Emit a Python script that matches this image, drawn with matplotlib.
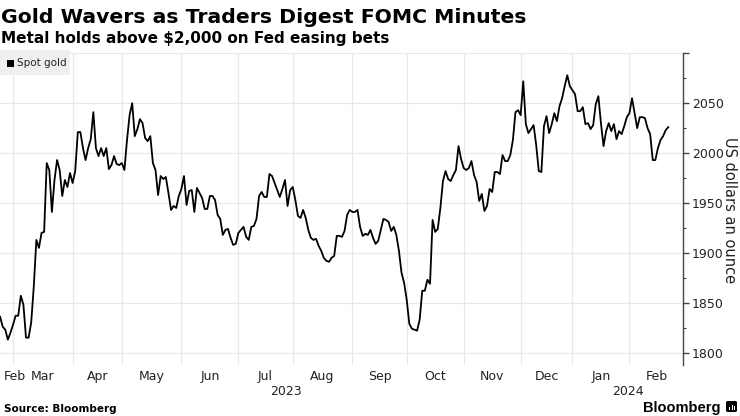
import numpy as np
import matplotlib
matplotlib.use("Agg")
import matplotlib.pyplot as plt
from matplotlib import transforms
from matplotlib.patches import Rectangle, FancyBboxPatch

# ---- data: spot gold closes (USD/oz), trading days Feb 21 2023 - Feb 21 2024 ----
feb23 = [1836, 1826, 1823, 1813, 1820, 1828]
mar23 = [1837, 1837, 1857, 1848, 1815, 1815, 1830, 1866, 1913, 1905, 1920, 1921,
         1990, 1983, 1941, 1973, 1993, 1983, 1957, 1973, 1966, 1980, 1970]
apr23 = [1982, 2021, 2021, 2005, 1993, 2005, 2014, 2041, 2005, 1997, 2005, 1997,
         2005, 1984, 1988, 1997, 1989, 1988, 1990]
may23 = [1983, 2013, 2038, 2050, 2017, 2024, 2034, 2030, 2015, 2012, 2017, 1990,
         1983, 1958, 1977, 1974, 1976, 1960, 1943, 1947, 1945, 1957, 1964]
jun23 = [1977, 1948, 1962, 1963, 1941, 1965, 1960, 1955, 1944, 1944, 1957, 1957,
         1953, 1938, 1934, 1918, 1923, 1924, 1915, 1908, 1909, 1920]
jul23 = [1923, 1926, 1916, 1913, 1926, 1927, 1934, 1957, 1961, 1956, 1956, 1979,
         1977, 1970, 1963, 1956, 1964, 1973, 1947, 1963, 1966]
aug23 = [1953, 1937, 1935, 1943, 1935, 1923, 1915, 1913, 1914, 1907, 1902, 1895,
         1892, 1891, 1895, 1897, 1917, 1917, 1916, 1922, 1938, 1943, 1941]
sep23 = [1941, 1943, 1926, 1917, 1919, 1918, 1923, 1915, 1909, 1912, 1923, 1934,
         1933, 1931, 1922, 1926, 1918, 1902, 1880, 1870, 1853]
oct23 = [1829, 1824, 1823, 1822, 1833, 1862, 1862, 1873, 1869, 1933, 1921, 1924,
         1945, 1972, 1982, 1974, 1972, 1978, 1983, 2007, 1994, 1985]
nov23 = [1983, 1985, 1992, 1978, 1971, 1952, 1959, 1942, 1947, 1964, 1961, 1981,
         1981, 1979, 1998, 1992, 1992, 1998, 2013, 2041, 2043, 2038]
dec23 = [2072, 2029, 2020, 2024, 2028, 2008, 1982, 1981, 2027, 2037, 2020, 2029,
         2040, 2032, 2047, 2055, 2067, 2078, 2067, 2063]
jan24 = [2059, 2042, 2042, 2046, 2029, 2030, 2024, 2028, 2049, 2057, 2030, 2007,
         2022, 2030, 2022, 2029, 2014, 2022, 2019, 2027, 2036, 2040]
feb24 = [2055, 2040, 2025, 2036, 2036, 2035, 2025, 2019, 1993, 1993, 2005, 2013,
         2017, 2023, 2026]

monthly = [feb23, mar23, apr23, may23, jun23, jul23, aug23, sep23, oct23,
           nov23, dec23, jan24, feb24]
month_labels = ["Feb", "Mar", "Apr", "May", "Jun", "Jul", "Aug", "Sep", "Oct",
                "Nov", "Dec", "Jan", "Feb"]
year_labels = ["2023", "2024"]
first_month_of_2024 = 11
y_major = [1800, 1850, 1900, 1950, 2000, 2050, 2100]
y_labels = ["1800", "1850", "1900", "1950", "2000", "2050", ""]

title = "Gold Wavers as Traders Digest FOMC Minutes"
subtitle = "Metal holds above $2,000 on Fed easing bets"
series_name = "Spot gold"
y_title = "US dollars an ounce"

# ---- derived ----
values = np.concatenate([np.array(m, dtype=float) for m in monthly])
x = np.arange(len(values))
starts = np.cumsum([0] + [len(m) for m in monthly])[:-1]
boundaries = [s - 1 for s in starts[1:]]

W, H = 740, 416
fig = plt.figure(figsize=(W / 100, H / 100), dpi=100)
ax_top, ax_bot, ax_right = 53.3, 365.0, 683.3
ax = fig.add_axes([0, 1 - ax_bot / H, ax_right / W, (ax_bot - ax_top) / H])

ax.plot(x, values, color="black", lw=1.3, solid_joinstyle="round", zorder=3)

xl, xr = -0.04, 263.8
ax.set_xlim(xl, xr)
ax.set_ylim(1787.6, 2100)

# y axis on the right
ax.yaxis.tick_right()
ax.set_yticks(y_major)
ax.set_yticklabels(y_labels)
ax.set_yticks(np.arange(1800, 2100, 25), minor=True)
ax.tick_params(axis="y", which="major", length=4, width=1, color="#444444",
               pad=2, labelsize=9, labelcolor="#222222")
ax.tick_params(axis="y", which="minor", length=2.5, width=0.8, color="#444444")
ax.grid(axis="y", which="major", color="#e8e8e8", lw=0.9, zorder=0)

# vertical gridlines at month boundaries
ax.set_xticks(boundaries, minor=True)
ax.set_xticks([])
ax.grid(axis="x", which="minor", color="#e8e8e8", lw=0.9, zorder=0)
ax.tick_params(axis="x", which="both", length=0, labelbottom=False)

for s in ["left", "top", "bottom"]:
    ax.spines[s].set_visible(False)
ax.spines["right"].set_color("#444444")
ax.spines["right"].set_linewidth(1.0)

# month labels
trans = transforms.blended_transform_factory(ax.transData, fig.transFigure)
yb_month = 1 - 380 / H
yb_year = 1 - 395.3 / H
edges = [xl] + boundaries + [xr]
for k, lab in enumerate(month_labels):
    if k == 0:
        fig.text(4 / W, yb_month, lab, ha="left", va="baseline", fontsize=9,
                 color="#222222")
    else:
        c = (edges[k] + edges[k + 1]) / 2
        ax.text(c, yb_month, lab, transform=trans, ha="center", va="baseline",
                fontsize=9, color="#222222")
jan_edge = edges[first_month_of_2024]
ax.text((xl + jan_edge) / 2, yb_year, year_labels[0], transform=trans,
        ha="center", va="baseline", fontsize=9, color="#222222")
ax.text((jan_edge + xr) / 2, yb_year, year_labels[1], transform=trans,
        ha="center", va="baseline", fontsize=9, color="#222222")

# y title
fig.text(729.5 / W, 1 - 210 / H, y_title, rotation=270, ha="center", va="center",
         fontsize=10.5, color="#222222")

# titles
fig.text(1 / W, 1 - 22.7 / H, title, ha="left", va="baseline",
         fontsize=14.7, fontweight="bold", color="black")
fig.text(1 / W, 1 - 42.7 / H, subtitle, ha="left", va="baseline",
         fontsize=11, fontweight="bold", color="black")

# legend box
fig.patches.append(Rectangle((0, 1 - 75 / H), 70 / W, 25 / H,
                             transform=fig.transFigure, facecolor="#efefef",
                             edgecolor="none", zorder=2))
fig.patches.append(Rectangle((7 / W, 1 - 67 / H), 7 / W, 7 / H,
                             transform=fig.transFigure, facecolor="black",
                             edgecolor="none", zorder=3))
fig.text(17 / W, 1 - 63.5 / H, series_name, ha="left", va="center",
         fontsize=7.5, color="#222222", zorder=4)

# footer
fig.text(4 / W, 1 - 412 / H, "Source: Bloomberg", ha="left", va="baseline",
         fontsize=7.5, fontweight="bold", color="black")
fig.text(721 / W, 1 - 411.7 / H, "Bloomberg", ha="right", va="baseline",
         fontsize=10.5, fontweight="bold", family="Liberation Sans",
         color="black")
fig.patches.append(FancyBboxPatch((726 / W, 1 - 412 / H), 11 / W, 11 / H,
                                  boxstyle="round,pad=0,rounding_size=0.003",
                                  transform=fig.transFigure, facecolor="black",
                                  edgecolor="none", zorder=3))
for bx, bh in [(729, 3), (731.5, 5), (734, 4)]:
    fig.patches.append(Rectangle((bx / W, 1 - 410 / H), 1.3 / W, bh / H,
                                 transform=fig.transFigure, facecolor="white",
                                 edgecolor="none", zorder=4))

fig.savefig("out.png", dpi=100)
